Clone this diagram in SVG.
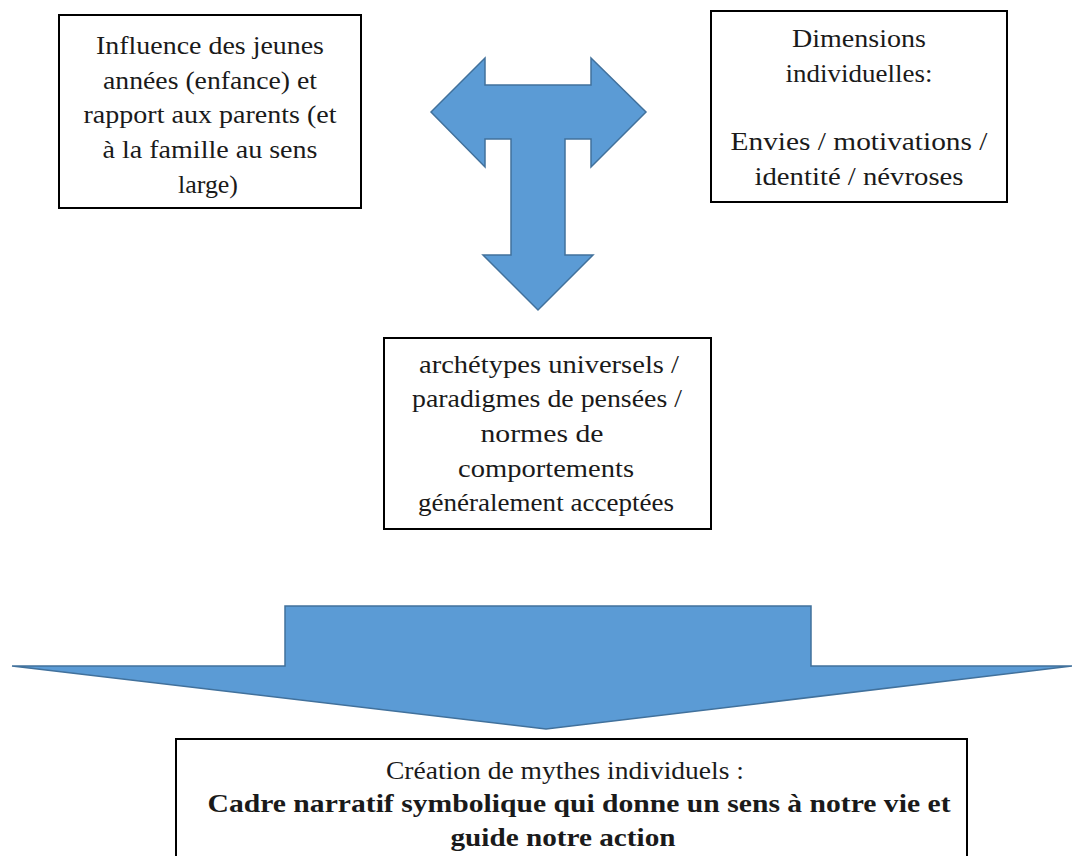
<svg xmlns="http://www.w3.org/2000/svg" width="1072" height="856" viewBox="0 0 1072 856">
<style>
.box{fill:#fff;stroke:#000;stroke-width:2}
.arrow{fill:#5B9BD5;stroke:#41719C;stroke-width:1.5;stroke-linejoin:miter}
text{font-family:"Liberation Serif","DejaVu Serif",serif;font-size:26px;fill:#1a1a1a;text-anchor:middle}
.b{font-weight:bold}
</style>
<rect width="1072" height="856" fill="#fff"/>
<g id="connectors">
<path class="arrow" d="M431,112 L485,58 L485,85 L591,85 L591,58 L646,112 L591,167 L591,139 L565,139 L565,255 L593,255 L538,310 L483,255 L511,255 L511,139 L485,139 L485,167 Z"/>
<path class="arrow" d="M285,606 L811,606 L811,666 L1072,666 L546,729 L12,666 L285,666 Z"/>
</g>
<g id="node-enfance">
<rect class="box" x="59" y="15" width="302" height="193"/>
<text x="210" y="54" textLength="228" lengthAdjust="spacingAndGlyphs">Influence des jeunes</text>
<text x="210" y="89" textLength="214" lengthAdjust="spacingAndGlyphs">années (enfance) et</text>
<text x="210" y="123" textLength="253" lengthAdjust="spacingAndGlyphs">rapport aux parents (et</text>
<text x="210" y="158" textLength="215" lengthAdjust="spacingAndGlyphs">à la famille au sens</text>
<text x="208" y="193" textLength="60" lengthAdjust="spacingAndGlyphs">large)</text>
</g>
<g id="node-dimensions">
<rect class="box" x="711" y="11" width="296" height="191"/>
<text x="859" y="47" textLength="134" lengthAdjust="spacingAndGlyphs">Dimensions</text>
<text x="859" y="82" textLength="147" lengthAdjust="spacingAndGlyphs">individuelles:</text>
<text x="859" y="150" textLength="257" lengthAdjust="spacingAndGlyphs">Envies / motivations /</text>
<text x="859" y="185" textLength="209" lengthAdjust="spacingAndGlyphs">identité / névroses</text>
</g>
<g id="node-archetypes">
<rect class="box" x="384" y="338" width="327" height="191"/>
<text x="549" y="373" textLength="260" lengthAdjust="spacingAndGlyphs">archétypes universels /</text>
<text x="547" y="407" textLength="270" lengthAdjust="spacingAndGlyphs">paradigmes de pensées /</text>
<text x="542" y="442" textLength="123" lengthAdjust="spacingAndGlyphs">normes de</text>
<text x="546" y="477" textLength="176" lengthAdjust="spacingAndGlyphs">comportements</text>
<text x="546" y="511" textLength="256" lengthAdjust="spacingAndGlyphs">généralement acceptées</text>
</g>
<g id="node-mythes">
<rect class="box" x="176" y="739" width="791" height="130"/>
<text x="565" y="779" textLength="358" lengthAdjust="spacingAndGlyphs">Création de mythes individuels :</text>
<text class="b" x="579" y="812" textLength="743" lengthAdjust="spacingAndGlyphs">Cadre narratif symbolique qui donne un sens à notre vie et</text>
<text class="b" x="563" y="846" textLength="225" lengthAdjust="spacingAndGlyphs">guide notre action</text>
</g>
</svg>
